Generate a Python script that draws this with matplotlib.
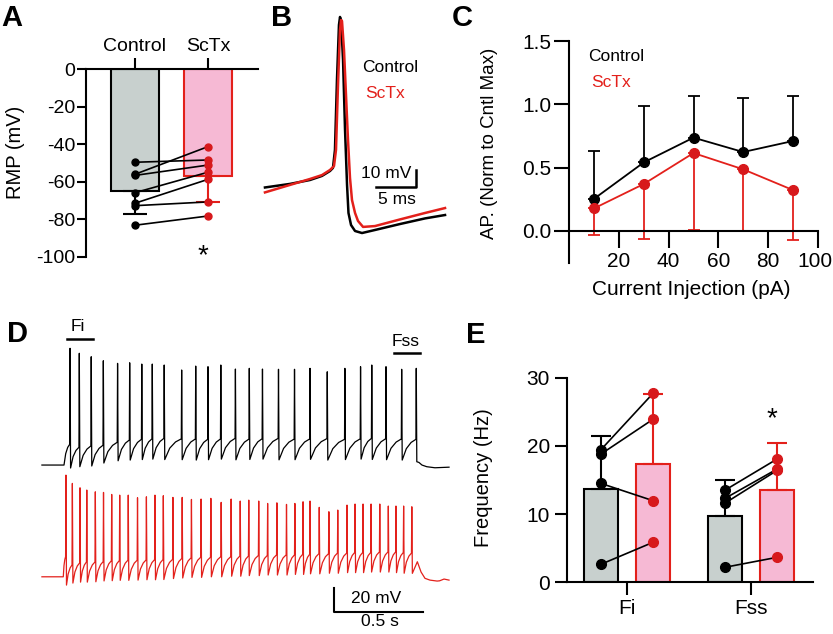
import numpy as np
import matplotlib
matplotlib.use('Agg')
import matplotlib.pyplot as plt
import matplotlib.transforms as mtransforms

W, H = 833, 634
plt.rcParams['font.family'] = ['Liberation Sans', 'DejaVu Sans']
plt.rcParams['axes.unicode_minus'] = False

RED = '#e3201b'
DOT_RED = '#d7191c'
GRAY_FILL = '#c8d0ce'
PINK_FILL = '#f6b9d4'

# ---------------- data ----------------
# A: resting membrane potential (mV)
rmp_groups = ['Control', 'ScTx']
rmp_mean = [-64.9, -56.9]
rmp_err = [12.2, 13.7]
rmp_control = [-49.6, -56.0, -56.6, -65.8, -71.4, -72.7, -83.1]
rmp_sctx = [-48.4, -41.3, -51.1, -54.9, -58.7, -70.7, -78.2]

# B: single action potential overlay (ms, mV)
b_t_control = [-9.38, -6.25, -3.75, -2.25, -1.25, -0.88, -0.63, -0.38, -0.13, 0.0, 0.13,
               0.38, 0.63, 0.88, 1.06, 1.38, 1.88, 2.75, 4.38, 7.5, 10.63, 13.13]
b_v_control = [-59.7, -57.6, -55.3, -52.9, -50.0, -48.2, -37.6, 3.5, 35.9, 40.6, 38.8,
               15.3, -25.9, -58.2, -74.7, -81.8, -85.3, -86.5, -84.7, -81.2, -77.9, -75.9]
b_t_sctx = [-9.38, -6.25, -3.75, -2.25, -1.25, -0.75, -0.5, -0.25, 0.0, 0.13, 0.25, 0.5,
            0.75, 1.0, 1.25, 1.5, 1.88, 2.25, 2.88, 4.38, 7.5, 10.63, 13.13]
b_v_sctx = [-62.6, -58.2, -54.7, -52.4, -49.4, -47.1, -37.6, 0.6, 32.9, 38.8, 38.2, 21.2,
            -5.3, -31.8, -54.1, -67.1, -74.7, -79.4, -82.9, -82.4, -78.5, -74.7, -71.8]

# C: normalised AP number vs current injection
current = [10, 30, 50, 70, 90]
ap_control = [0.253, 0.541, 0.737, 0.623, 0.71]
ap_control_err = [0.375, 0.447, 0.33, 0.431, 0.357]
ap_sctx = [0.177, 0.37, 0.615, 0.486, 0.322]
ap_sctx_err = [0.209, 0.433, 0.61, 0.486, 0.396]

# D: spike trains during a 2 s step (s, mV)
d_spikes_control = [0.034, 0.086, 0.153, 0.221, 0.301, 0.369, 0.437, 0.496, 0.563, 0.661,
                    0.740, 0.809, 0.881, 0.963, 1.041, 1.115, 1.205, 1.295, 1.382, 1.479,
                    1.578, 1.666, 1.729, 1.809, 1.897, 1.979]
d_peaks_control = [28.5, 24.3, 21.4, 18.0, 15.8, 16.3, 15.2, 15.2, 14.4, 10.2, 13.5, 13.0,
                   14.4, 11.0, 11.6, 11.0, 10.8, 10.8, 11.6, 8.7, 11.6, 13.0, 14.4, 13.0,
                   10.8, 11.6]
d_troughs_control = [-72.5, -71.4, -70.8, -68.3, -66.4, -65.8, -65.4, -65.0, -65.4, -65.5,
                     -65.8, -65.5, -65.0, -65.6, -65.3, -65.0, -65.6, -65.5, -65.2, -65.8,
                     -65.4, -65.0, -65.3, -65.5, -65.8, -67.2]
d_tail_t_control = [1.994, 2.011, 2.038, 2.084, 2.163]
d_tail_v_control = [-67.8, -70.0, -71.4, -72.3, -71.8]

d_spikes_sctx = [0.011, 0.047, 0.090, 0.128, 0.176, 0.222, 0.268, 0.313, 0.361, 0.413,
                 0.463, 0.511, 0.558, 0.612, 0.664, 0.716, 0.770, 0.825, 0.883, 0.939,
                 0.990, 1.038, 1.094, 1.144, 1.196, 1.250, 1.297, 1.343, 1.382, 1.434,
                 1.488, 1.538, 1.590, 1.635, 1.680, 1.725, 1.774, 1.822, 1.865, 1.908, 1.954]
d_peaks_sctx = [15.8, 8.8, 5.1, 3.2, 1.7, 1.2, -0.5, -1.1, -1.1, -3.3, -2.5, -1.1, -1.6,
                -3.0, -3.0, -4.7, -4.4, -3.8, -7.2, -4.4, -6.1, -5.3, -6.1, -8.1, -7.6,
                -8.9, -8.1, -6.7, -6.1, -11.4, -15.1, -13.7, -9.5, -8.6, -8.6, -8.6, -8.6,
                -10.3, -10.3, -10.3, -10.9]
d_troughs_sctx = [-77.0, -75.3, -74.5, -74.5, -74.2, -73.5, -73.3, -73.0, -73.0, -72.8,
                  -72.5, -72.5, -72.3, -71.5, -71.0, -70.5, -70.5, -70.0, -70.0, -69.5,
                  -69.5, -69.0, -69.0, -68.5, -68.5, -68.5, -68.0, -68.0, -67.5, -67.5,
                  -67.0, -67.0, -66.5, -66.5, -66.5, -66.0, -66.0, -66.0, -66.5, -67.0, -67.1]
d_tail_t_sctx = [1.985, 2.006, 2.028, 2.056, 2.096, 2.11, 2.135, 2.163]
d_tail_v_sctx = [-57.3, -66.0, -71.3, -72.8, -73.6, -73.4, -71.9, -72.8]

# E: firing frequency (Hz)
freq_cats = ['Fi', 'Fss']
freq_control_mean = [13.73, 9.77]
freq_control_err = [7.77, 5.28]
freq_sctx_mean = [17.3, 13.58]
freq_sctx_err = [10.3, 6.89]
fi_control = [19.44, 18.8, 14.5, 2.64]
fi_sctx = [27.7, 23.9, 11.97, 5.86]
fss_control = [13.5, 12.3, 11.6, 2.2]
fss_sctx = [18.07, 16.6, 16.4, 3.66]


def frect(x0, y0, x1, y1):
    return [x0 / W, 1 - y1 / H, (x1 - x0) / W, (y1 - y0) / H]


def ftext(x, y, s, **kw):
    fig.text(x / W, 1 - y / H, s, **kw)


def build_trace(t_start, t_on, rest, spikes, peaks, troughs, rise, tail_t, tail_v):
    """piecewise trace: slow ramp to threshold, fast spike, trough"""
    t = [t_start, t_on]
    v = [rest, rest]
    level, t_prev = rest, t_on
    for ts, pk, tr in zip(spikes, peaks, troughs):
        thr = level + rise
        t1 = ts - 0.002
        for f, g in ((0.3, 0.55), (0.65, 0.85)):
            t.append(t_prev + f * (t1 - t_prev))
            v.append(level + g * (thr - level))
        t += [t1, ts, ts + 0.003]
        v += [thr, pk, tr]
        level, t_prev = tr, ts + 0.003
    t += tail_t
    v += tail_v
    return np.array(t), np.array(v)


fig = plt.figure(figsize=(W / 100, H / 100), dpi=100)

# ---------------- A ----------------
axA = fig.add_axes(frect(86, 69, 258, 257))
axA.bar([0, 1], rmp_mean, width=0.66, color=[GRAY_FILL, PINK_FILL],
        edgecolor=['black', RED], linewidth=1.5, zorder=1)
for i, (m, e, c) in enumerate(zip(rmp_mean, rmp_err, ['black', RED])):
    axA.errorbar(i, m, yerr=[[e], [0]], fmt='none', ecolor=c, elinewidth=1.5,
                 capsize=8.6, capthick=1.5, zorder=2)
for c, s in zip(rmp_control, rmp_sctx):
    axA.plot([0, 1], [c, s], color='black', lw=1.2, zorder=3)
axA.plot([0] * len(rmp_control), rmp_control, 'o', color='black', ms=5, zorder=4)
axA.plot([1] * len(rmp_sctx), rmp_sctx, 'o', color=DOT_RED, ms=5, zorder=4)
axA.set_xlim(-0.671, 1.685)
axA.set_ylim(-100, 0)
for side in ['bottom', 'right']:
    axA.spines[side].set_visible(False)
for side in ['top', 'left']:
    axA.spines[side].set_linewidth(1.5)
axA.xaxis.tick_top()
axA.set_xticks([0, 1], rmp_groups)
axA.tick_params(axis='x', direction='out', length=8, width=1.5, labelsize=14, pad=2)
axA.set_yticks(range(-100, 1, 20))
axA.tick_params(axis='y', direction='out', length=6.5, width=1.5, labelsize=14, pad=1)
axA.text(0.93, -99.7, '*', fontsize=20, ha='center', va='center', clip_on=False)
ftext(16, 152, 'RMP (mV)', rotation=90, ha='center', va='center', fontsize=14.5)

# ---------------- B ----------------
axB = fig.add_axes(frect(262, 10, 450, 240))
axB.plot(b_t_control, b_v_control, color='black', lw=1.8)
axB.plot(b_t_sctx, b_v_sctx, color=RED, lw=1.8)
axB.plot([4.5, 9.46, 9.46], [-59.4, -59.4, -49.4], color='black', lw=1.8)
axB.text(8.96, -51.4, '10 mV', ha='right', va='center', fontsize=12.5)
axB.text(7.08, -66.5, '5 ms', ha='center', va='center', fontsize=12.5)
axB.text(2.71, 10.9, 'Control', ha='left', va='center', fontsize=12.5)
axB.text(3.12, -4.5, 'ScTx', ha='left', va='center', fontsize=12.5, color=RED)
axB.set_xlim(-9.75, 13.75)
axB.set_ylim(-90.6, 44.7)
axB.axis('off')

# ---------------- C ----------------
axC = fig.add_axes(frect(569.3, 41.3, 817.7, 263))
axC.errorbar(current, ap_control, yerr=[[0] * 5, ap_control_err], fmt='none',
             ecolor='black', elinewidth=1.3, capsize=4.5, capthick=1.3, zorder=2)
axC.errorbar(current, ap_sctx, yerr=[ap_sctx_err, [0] * 5], fmt='none',
             ecolor=RED, elinewidth=1.3, capsize=4.5, capthick=1.3, zorder=2)
axC.plot(current, ap_control, '-o', color='black', lw=1.3, ms=7, zorder=3)
axC.plot(current, ap_sctx, '-o', color=RED, mfc=DOT_RED, mec=DOT_RED, lw=1.3, ms=7, zorder=3)
axC.set_xlim(0, 100)
axC.set_ylim(-0.256, 1.5)
axC.spines['bottom'].set_position(('data', 0))
for side in ['top', 'right']:
    axC.spines[side].set_visible(False)
for side in ['bottom', 'left']:
    axC.spines[side].set_linewidth(1.5)
axC.set_xticks([20, 40, 60, 80, 100])
axC.set_yticks([0, 0.5, 1.0, 1.5], ['0.0', '0.5', '1.0', '1.5'])
axC.tick_params(axis='y', direction='out', length=11, width=1.5, labelsize=15, pad=2)
axC.tick_params(axis='x', direction='out', length=12.5, width=1.5, labelsize=15, pad=3)
# keep the last tick label inside the canvas
last = axC.get_xticklabels()[-1]
last.set_transform(last.get_transform() +
                   mtransforms.ScaledTranslation(-3 / 100, 0, fig.dpi_scale_trans))
axC.text(7.65, 1.378, 'Control', ha='left', va='center', fontsize=12.5)
axC.text(9.0, 1.172, 'ScTx', ha='left', va='center', fontsize=12.5, color=RED)
ftext(490, 143, 'AP. (Norm to Cntl Max)', rotation=90, ha='center', va='center', fontsize=13.5)
ftext(691, 289, 'Current Injection (pA)', ha='center', va='center', fontsize=15)

# ---------------- D ----------------
axD = fig.add_axes(frect(40, 320, 450, 630))
tc, vc = build_trace(-0.124, 0.0, -70, d_spikes_control, d_peaks_control,
                     d_troughs_control, 17.5, d_tail_t_control, d_tail_v_control)
ts_, vs_ = build_trace(-0.124, -0.004, -70, d_spikes_sctx, d_peaks_sctx,
                       d_troughs_sctx, 17.0, d_tail_t_sctx, d_tail_v_sctx)
red_offset = -94.3
axD.plot(tc, vc, color='black', lw=0.9)
axD.plot(ts_, vs_ + red_offset, color=RED, lw=0.9)
axD.plot([0.015, 0.161], [36.6, 36.6], color='black', lw=1.8)
axD.text(0.080, 46.7, 'Fi', ha='center', va='center', fontsize=12.5)
axD.plot([1.856, 2.0], [24.3, 24.3], color='black', lw=1.8)
axD.text(1.921, 34.1, 'Fss', ha='center', va='center', fontsize=12.5)
axD.plot([1.519, 1.519, 2.019], [-173.8, -193.8, -193.8], color='black', lw=1.5)
axD.text(1.754, -182.5, '20 mV', ha='center', va='center', fontsize=12.5)
axD.text(1.773, -202.2, '0.5 s', ha='center', va='center', fontsize=12.5)
axD.set_xlim(-0.1348, 2.1685)
axD.set_ylim(-209.2, 52.4)
axD.axis('off')

# ---------------- E ----------------
axE = fig.add_axes(frect(566.7, 377.7, 812.7, 582.3))
xcat = np.arange(len(freq_cats))
off, bw = 0.21, 0.27
axE.bar(xcat - off, freq_control_mean, width=bw, color=GRAY_FILL, edgecolor='black',
        linewidth=1.5, zorder=1)
axE.bar(xcat + off, freq_sctx_mean, width=bw, color=PINK_FILL, edgecolor=RED,
        linewidth=1.5, zorder=1)
axE.errorbar(xcat - off, freq_control_mean, yerr=[[0, 0], freq_control_err], fmt='none',
             ecolor='black', elinewidth=1.5, capsize=7, capthick=1.5, zorder=2)
axE.errorbar(xcat + off, freq_sctx_mean, yerr=[[0, 0], freq_sctx_err], fmt='none',
             ecolor=RED, elinewidth=1.5, capsize=7, capthick=1.5, zorder=2)
for k, (ctrl, sctx) in enumerate([(fi_control, fi_sctx), (fss_control, fss_sctx)]):
    for c, s in zip(ctrl, sctx):
        axE.plot([k - off, k + off], [c, s], color='black', lw=1.2, zorder=3)
    axE.plot([k - off] * len(ctrl), ctrl, 'o', color='black', ms=7, zorder=4)
    axE.plot([k + off] * len(sctx), sctx, 'o', color=DOT_RED, ms=7, zorder=4)
axE.set_xlim(-0.486, 1.498)
axE.set_ylim(0, 30)
for side in ['top', 'right']:
    axE.spines[side].set_visible(False)
for side in ['bottom', 'left']:
    axE.spines[side].set_linewidth(1.5)
axE.set_xticks(xcat, freq_cats)
axE.set_yticks([0, 10, 20, 30])
axE.tick_params(axis='both', direction='out', length=9, width=1.5, labelsize=15, pad=3)
axE.text(1 + off - 0.04, 23.9, '*', fontsize=20, ha='center', va='center')
ftext(483, 478, 'Frequency (Hz)', rotation=90, ha='center', va='center', fontsize=14.5)

# ---------------- panel letters ----------------
for letter, x, y in [('A', 11.5, 17.5), ('B', 282, 17.5), ('C', 462.5, 17.5),
                     ('D', 17.8, 334), ('E', 476, 335)]:
    ftext(x, y, letter, fontsize=21, fontweight='bold', ha='center', va='center')

fig.savefig('out.png', dpi=100)
